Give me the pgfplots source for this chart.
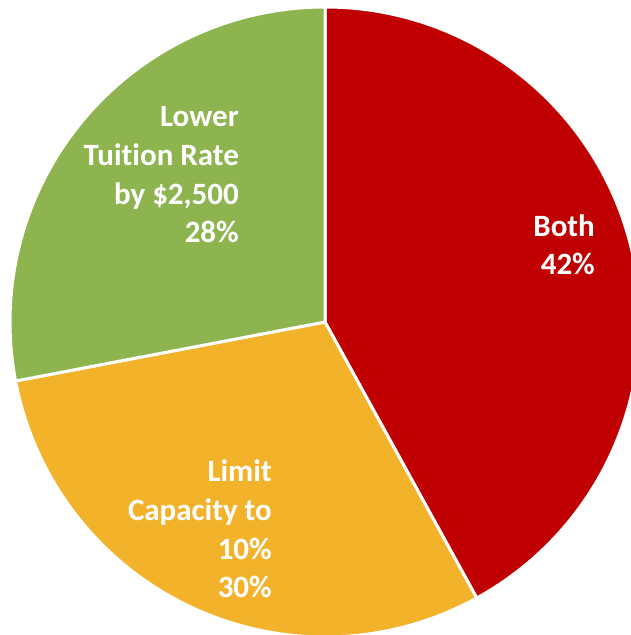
\documentclass[border=0pt]{standalone}
\usepackage{fontspec}
\setmainfont{Carlito}[Ligatures=NoCommon]
\usepackage{pgfplots}
\usepackage{pgfplotstable}
\pgfplotsset{compat=1.18}
\definecolor{pie-both}{HTML}{C00000}
\definecolor{pie-limit}{HTML}{F2B32B}
\definecolor{pie-lower}{HTML}{8DB44E}

% shares in percent, clockwise from 12 o'clock
\pgfplotstableread{
label share
Both  42
Limit 30
Lower 28
}\piedata

\begin{document}
\begin{tikzpicture}
\pgfplotstablegetelem{0}{share}\of\piedata \let\sBoth\pgfplotsretval
\pgfplotstablegetelem{1}{share}\of\piedata \let\sLimit\pgfplotsretval
\pgfplotstablegetelem{2}{share}\of\piedata \let\sLower\pgfplotsretval
\def\R{315}
\pgfmathsetmacro\aBoth{90-3.6*\sBoth}
\pgfmathsetmacro\aLimit{\aBoth-3.6*\sLimit}
\pgfmathsetmacro\aLower{\aLimit-3.6*\sLower}
\pgfmathsetmacro\xBoth{\R*cos(\aBoth)}
\pgfmathsetmacro\yBoth{\R*sin(\aBoth)}
\pgfmathsetmacro\xLimit{\R*cos(\aLimit)}
\pgfmathsetmacro\yLimit{\R*sin(\aLimit)}
\begin{axis}[
    width=631bp, height=635bp,
    scale only axis,
    hide axis,
    xtick=\empty, ytick=\empty,
    xmin=-325, xmax=306,
    ymin=-313, ymax=322,
    clip=true,
]
\filldraw[fill=pie-both, draw=white, line width=3bp]
    (axis cs:0,0) -- (axis cs:0,\R) arc[start angle=90, end angle=\aBoth, radius=\R bp] -- cycle;
\filldraw[fill=pie-limit, draw=white, line width=3bp]
    (axis cs:0,0) -- (axis cs:\xBoth,\yBoth) arc[start angle=\aBoth, end angle=\aLimit, radius=\R bp] -- cycle;
\filldraw[fill=pie-lower, draw=white, line width=3bp]
    (axis cs:0,0) -- (axis cs:\xLimit,\yLimit) arc[start angle=\aLimit, end angle=\aLower, radius=\R bp] -- cycle;

\tikzset{lbl/.style={anchor=base east, inner sep=0pt, text=white,
    font=\bfseries\fontsize{31bp}{37bp}\selectfont}}
\node[lbl] at (axis cs:270,85) {Both};
\node[lbl] at (axis cs:270,47) {42\%};
\node[lbl] at (axis cs:-86,195) {Lower};
\node[lbl] at (axis cs:-86,156) {Tuition Rate};
\node[lbl] at (axis cs:-86,117) {by \$2,500};
\node[lbl] at (axis cs:-86,79) {28\%};
\node[lbl] at (axis cs:-53,-160) {Limit};
\node[lbl] at (axis cs:-53,-199) {Capacity to};
\node[lbl] at (axis cs:-53,-238) {10\%};
\node[lbl] at (axis cs:-53,-276) {30\%};
\coordinate (bl) at (rel axis cs:0,0);
\coordinate (tr) at (rel axis cs:1,1);
\end{axis}
\pgfresetboundingbox
\useasboundingbox (bl) rectangle (tr);
\end{tikzpicture}
\end{document}
